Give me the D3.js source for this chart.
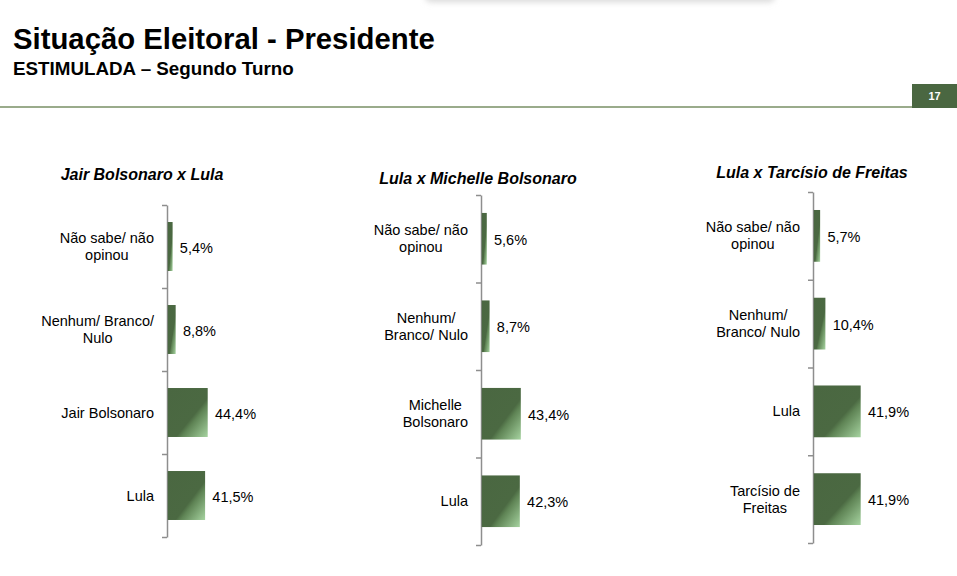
<!DOCTYPE html>
<html>
<head>
<meta charset="utf-8">
<script src="https://cdn.jsdelivr.net/npm/d3@7"></script>
<style>
  body { margin: 0; background: #fff; }
  svg { display: block; font-family: Arial, "Liberation Sans", sans-serif; }
</style>
</head>
<body>
<div id="container"></div>
<script>
/* CONSTANTS AND GLOBALS */
const width = 957,
  height = 576;

/* DATA */
const titles = ["Jair Bolsonaro x Lula", "Lula x Michelle Bolsonaro", "Lula x Tarcísio de Freitas"];

// line breaks marked with "|"
const categories1 = ["Não sabe/ não|opinou", "Nenhum/ Branco/|Nulo", "Jair Bolsonaro", "Lula"];
const values1 = [5.4, 8.8, 44.4, 41.5];

const categories2 = ["Não sabe/ não|opinou", "Nenhum/|Branco/ Nulo", "Michelle|Bolsonaro", "Lula"];
const values2 = [5.6, 8.7, 43.4, 42.3];

const categories3 = ["Não sabe/ não|opinou", "Nenhum/|Branco/ Nulo", "Lula", "Tarcísio de|Freitas"];
const values3 = [5.7, 10.4, 41.9, 41.9];

const pageNumber = "17";

// layout of each small chart (axis position, length of 100%)
const panels = [
  { title: titles[0], cats: categories1, vals: values1, axisX: 167, top: 205, bottom: 537, full: 90, titleX: 142, titleY: 180 },
  { title: titles[1], cats: categories2, vals: values2, axisX: 481, top: 195, bottom: 545, full: 90, titleX: 478, titleY: 184 },
  { title: titles[2], cats: categories3, vals: values3, axisX: 813, top: 192, bottom: 543, full: 112, titleX: 812, titleY: 178 }
];

const fmt = v => d3.format(".1f")(v).replace(".", ",") + "%";

const svg = d3.select("#container")
  .append("svg")
  .attr("width", width)
  .attr("height", height);

const defs = svg.append("defs");

// bar gradient: dark green with a light corner bottom-right
const grad = defs.append("linearGradient")
  .attr("id", "barGrad")
  .attr("x1", 0).attr("y1", 0)
  .attr("x2", 1).attr("y2", 1);
grad.append("stop").attr("offset", "0%").attr("stop-color", "#4a6741");
grad.append("stop").attr("offset", "60%").attr("stop-color", "#4b6942");
grad.append("stop").attr("offset", "67%").attr("stop-color", "#5f8455");
grad.append("stop").attr("offset", "100%").attr("stop-color", "#a6d3a0");

const blur = defs.append("filter").attr("id", "shadow").attr("x", "-20%").attr("y", "-100%").attr("width", "140%").attr("height", "300%");
blur.append("feGaussianBlur").attr("stdDeviation", 3);

/* HEADER */
svg.append("rect")
  .attr("x", 425).attr("y", -20)
  .attr("width", 350).attr("height", 22)
  .attr("rx", 6)
  .attr("fill", "#d8d8d8")
  .attr("filter", "url(#shadow)");

svg.append("text")
  .attr("x", 13).attr("y", 49)
  .attr("font-size", 29.3)
  .attr("font-weight", "bold")
  .attr("fill", "#000")
  .text("Situação Eleitoral - Presidente");

svg.append("text")
  .attr("x", 13).attr("y", 75)
  .attr("font-size", 18.8)
  .attr("font-weight", "bold")
  .attr("fill", "#000")
  .text("ESTIMULADA – Segundo Turno");

svg.append("line")
  .attr("x1", 0).attr("x2", 912)
  .attr("y1", 107).attr("y2", 107)
  .attr("stroke", "#9aab8b")
  .attr("stroke-width", 2);

svg.append("rect")
  .attr("x", 912).attr("y", 84)
  .attr("width", 45).attr("height", 24)
  .attr("fill", "#4a6741");

svg.append("text")
  .attr("x", 934.5).attr("y", 96)
  .attr("text-anchor", "middle")
  .attr("dominant-baseline", "central")
  .attr("font-size", 11)
  .attr("font-weight", "bold")
  .attr("fill", "#fff")
  .text(pageNumber);

/* PANELS */
panels.forEach(p => {
  const g = svg.append("g");

  const xScale = d3.scaleLinear()
    .domain([0, 100])
    .range([p.axisX, p.axisX + p.full]);

  const yScale = d3.scaleBand()
    .domain(p.cats)
    .range([p.top, p.bottom])
    .paddingInner(0.41)
    .paddingOuter(0.205);

  // axis with ticks between the categories
  const tickScale = d3.scaleLinear()
    .domain([0, p.cats.length])
    .range([p.top, p.bottom]);

  const yAxis = d3.axisLeft(tickScale)
    .tickValues(d3.range(p.cats.length + 1))
    .tickFormat("")
    .tickSizeInner(5)
    .tickSizeOuter(0);

  const ax = g.append("g")
    .attr("transform", `translate(${p.axisX},0)`)
    .call(yAxis);
  ax.selectAll("path, line")
    .attr("stroke", "#8e8e8e")
    .attr("stroke-width", 1.5);

  // title
  g.append("text")
    .attr("x", p.titleX).attr("y", p.titleY)
    .attr("text-anchor", "middle")
    .attr("font-size", 16)
    .attr("font-weight", "bold")
    .attr("font-style", "italic")
    .attr("fill", "#000")
    .text(p.title);

  const rows = p.cats.map((c, i) => ({ cat: c, val: p.vals[i] }));

  g.selectAll("rect.bar")
    .data(rows)
    .join("rect")
    .attr("class", "bar")
    .attr("x", xScale(0) + 0.75)
    .attr("y", d => yScale(d.cat))
    .attr("width", d => xScale(d.val) - xScale(0))
    .attr("height", yScale.bandwidth())
    .attr("fill", "url(#barGrad)");

  g.selectAll("text.value")
    .data(rows)
    .join("text")
    .attr("class", "value")
    .attr("x", d => xScale(d.val) + 8)
    .attr("y", d => yScale(d.cat) + yScale.bandwidth() / 2 + 1)
    .attr("dominant-baseline", "central")
    .attr("font-size", 14.5)
    .attr("fill", "#000")
    .text(d => fmt(d.val));

  // category labels: block right-aligned to the axis, lines centred within it
  const labels = g.selectAll("text.cat")
    .data(rows)
    .join("text")
    .attr("class", "cat")
    .attr("text-anchor", "middle")
    .attr("font-size", 14.5)
    .attr("fill", "#000");

  labels.each(function(d) {
    const el = d3.select(this);
    const lines = d.cat.split("|");
    const cy = yScale(d.cat) + yScale.bandwidth() / 2;
    const lh = 17;
    const spans = el.selectAll("tspan")
      .data(lines)
      .join("tspan")
      .attr("y", (l, i) => cy + (i - (lines.length - 1) / 2) * lh)
      .attr("dominant-baseline", "central")
      .text(l => l);
    let maxW = 0;
    spans.each(function() { maxW = Math.max(maxW, this.getComputedTextLength()); });
    spans.attr("x", p.axisX - 13 - maxW / 2);
  });
});
</script>
</body>
</html>
